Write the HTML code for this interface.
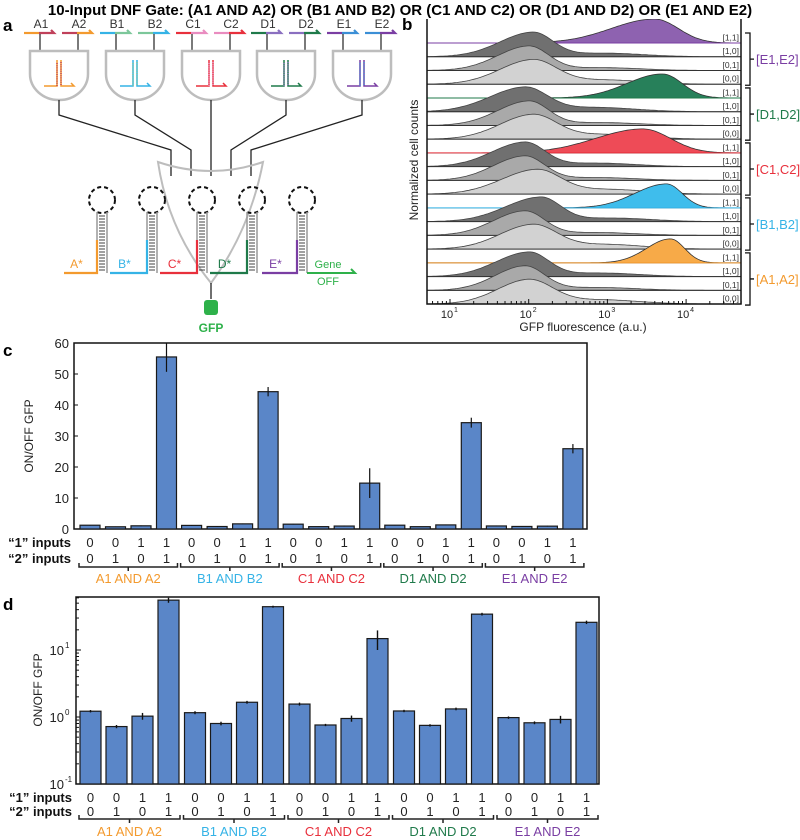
<!DOCTYPE html>
<html><head><meta charset="utf-8"><style>
body{margin:0;background:#fff;}
svg{display:block;font-family:"Liberation Sans",Arial,sans-serif;}
</style></head><body>
<svg id="fig" width="800" height="840" viewBox="0 0 800 840">
<defs><clipPath id="clipC"><rect x="74" y="343" width="513" height="186"/></clipPath>
<clipPath id="clipB"><rect x="427" y="19" width="314" height="285"/></clipPath></defs>
<text x="400" y="15" text-anchor="middle" font-size="15" font-weight="bold">10-Input DNF Gate: (A1 AND A2) OR (B1 AND B2) OR (C1 AND C2) OR (D1 AND D2) OR (E1 AND E2)</text>
<text x="3" y="31" font-size="17" font-weight="bold">a</text>
<text x="402" y="30" font-size="17" font-weight="bold">b</text>
<text x="3" y="356" font-size="17" font-weight="bold">c</text>
<text x="3" y="610" font-size="17" font-weight="bold">d</text>
<g id="pa"></g>
<g id="pb"></g>
<g id="pc"></g>
<g id="pd"></g>
</svg>
<script>
const NS='http://www.w3.org/2000/svg';
function mk(parent,tag,attrs,text){const e=document.createElementNS(NS,tag);for(const k in attrs)e.setAttribute(k,attrs[k]);if(text!==undefined)e.textContent=text;parent.appendChild(e);return e;}

// ---------- data ----------
const groupNames=['A1 AND A2','B1 AND B2','C1 AND C2','D1 AND D2','E1 AND E2'];
const groupColors=['#f39a2e','#35b3e6','#e8303c','#1f7a4a','#7a3ea3'];
const input1=[0,0,1,1];
const input2=[0,1,0,1];
const ratioMeans=[1.22,0.72,1.03,55.5, 1.16,0.80,1.66,44.3, 1.56,0.76,0.95,14.8, 1.23,0.75,1.32,34.3, 0.98,0.82,0.92,25.9];
const ratioErr=[0.05,0.04,0.12,4.8, 0.06,0.05,0.08,1.5, 0.08,0.03,0.10,4.8, 0.05,0.03,0.06,1.6, 0.04,0.04,0.12,1.5];
const linTicks=[0,10,20,30,40,50,60];
const logTicks=[-1,0,1];

const histGroups=['[E1,E2]','[D1,D2]','[C1,C2]','[B1,B2]','[A1,A2]'];
const histGroupColors=['#7a3ea3','#1f7a4a','#e8303c','#35b3e6','#f39a2e'];
const histOnFill=['#8e62b0','#27805a','#ee4b57','#3fbdec','#f7aa48'];
const histRowLabels=['[1,1]','[1,0]','[0,1]','[0,0]'];
const histPeakLog=[3.6,2.05,2.0,2.05, 3.7,1.95,2.0,2.05, 3.45,1.95,1.95,2.1, 3.75,2.15,1.95,2.05, 3.8,2.0,1.95,2.0];
const histSigL=[0.55,0.42,0.4,0.42, 0.45,0.45,0.4,0.42, 0.6,0.42,0.4,0.45, 0.4,0.45,0.4,0.42, 0.3,0.42,0.38,0.4];
const histSigR=[0.3,0.25,0.25,0.3, 0.25,0.28,0.25,0.3, 0.35,0.25,0.25,0.3, 0.2,0.25,0.25,0.3, 0.18,0.25,0.25,0.3];
const histTail=[0,0.15,0.12,0.18, 0,0.18,0.12,0.2, 0,0.15,0.12,0.2, 0,0.15,0.12,0.2, 0,0.15,0.12,0.18];
const histXTicks=[1,2,3,4];

// ---------- panel c (linear) ----------
(function(){
 const g=document.getElementById('pc');
 const L=74,R=587,T=343,B=529;
 const y=v=>B-(v/60)*(B-T);
 const bx=(gi,i)=>80+gi*101.6+i*25.5;
 mk(g,'rect',{x:L,y:T,width:R-L,height:B-T,fill:'none',stroke:'#111','stroke-width':1.5});
 linTicks.forEach(t=>{mk(g,'line',{x1:L,x2:L+4,y1:y(t),y2:y(t),stroke:'#111'});
  const tl=mk(g,'text',{x:L-5,y:y(t)+5,'text-anchor':'end','font-size':13,fill:'#222'},t);
  });
 const yl=mk(g,'text',{x:0,y:0,transform:'translate(33,436) rotate(-90)','text-anchor':'middle','font-size':12,fill:'#222'},'ON/OFF GFP');
 
 const cg=mk(g,'g',{'clip-path':'url(#clipC)'});
 for(let gi=0;gi<5;gi++)for(let i=0;i<4;i++){const k=gi*4+i,v=ratioMeans[k],e=ratioErr[k],x=bx(gi,i);
  const b=mk(cg,'rect',{x:x,y:y(v),width:20,height:B-y(v),fill:'#5a86c8',stroke:'#1a1a1a','stroke-width':1.2});
  
  const eb=mk(cg,'line',{x1:x+10,x2:x+10,y1:y(v+e),y2:y(v-e),stroke:'#111','stroke-width':1.2});
  }
 drawInputs(g,bx,10,543,559,567,583,L-3);
})();

// ---------- panel d (log) ----------
(function(){
 const g=document.getElementById('pd');
 const L=76,R=599,T=597,B=784;
 const y=v=>717-Math.log10(v)*67;
 const bx=(gi,i)=>80+gi*104.5+i*26;
 mk(g,'rect',{x:L,y:T,width:R-L,height:B-T,fill:'none',stroke:'#111','stroke-width':1.5});
 for(let d=-1;d<=1;d++)for(let m=1;m<10;m++){const v=m*Math.pow(10,d),yy=y(v);if(yy<T)continue;
  mk(g,'line',{x1:L,x2:L+(m===1?5:3),y1:yy,y2:yy,stroke:'#111'});}
 logTicks.forEach(t=>{const tx=mk(g,'text',{x:L-12,y:y(Math.pow(10,t))+5,'text-anchor':'end','font-size':13,fill:'#222'},'10');
  
  mk(g,'text',{x:L-11,y:y(Math.pow(10,t))-2,'font-size':8,fill:'#222'},String(t));});
 const yl=mk(g,'text',{x:0,y:0,transform:'translate(42,690) rotate(-90)','text-anchor':'middle','font-size':12,fill:'#222'},'ON/OFF GFP');
 
 for(let gi=0;gi<5;gi++)for(let i=0;i<4;i++){const k=gi*4+i,v=ratioMeans[k],e=ratioErr[k],x=bx(gi,i);
  const b=mk(g,'rect',{x:x,y:Math.max(T,y(v)),width:21,height:B-Math.max(T,y(v)),fill:'#5a86c8',stroke:'#1a1a1a','stroke-width':1.2});
  
  const eb=mk(g,'line',{x1:x+10.5,x2:x+10.5,y1:Math.max(T,y(v+e)),y2:y(v-e),stroke:'#111','stroke-width':1.4});
  }
 drawInputs(g,bx,10.5,798,812,819,836,L-4);
})();

function drawInputs(g,bx,half,y1,y2,yb,yl,lx){
 const a=mk(g,'text',{x:lx,y:y1+4,'text-anchor':'end','font-size':13,'font-weight':'bold',fill:'#111'},'\u201c1\u201d inputs');
 
 const b=mk(g,'text',{x:lx,y:y2+4,'text-anchor':'end','font-size':13,'font-weight':'bold',fill:'#111'},'\u201c2\u201d inputs');
 
 for(let gi=0;gi<5;gi++){
  for(let i=0;i<4;i++){const cx=bx(gi,i)+half;
   mk(g,'text',{x:cx,y:y1+4,'text-anchor':'middle','font-size':13,fill:'#222'},input1[i]);
   mk(g,'text',{x:cx,y:y2+4,'text-anchor':'middle','font-size':13,fill:'#222'},input2[i]);}
  const x0=bx(gi,0)-1,x1=bx(gi,3)+2*half+1,mid=(x0+x1)/2;
  mk(g,'path',{d:`M${x0},${yb-4}V${yb}H${x1}V${yb-4}M${mid},${yb}V${yb+4}`,fill:'none',stroke:'#222','stroke-width':1.5});
  const t=mk(g,'text',{x:mid,y:yl,'text-anchor':'middle','font-size':13,fill:groupColors[gi]},groupNames[gi]);
  }
}

// ---------- panel b (histograms) ----------
(function(){
 const g=document.getElementById('pb');
 const L=427,R=741,B=304,T=19;
 const x=l=>450+(l-1)*78.7;
 const base=r=>43+r*13.74;
 const H=24;
 const grays=['#707070','#a9a9a9','#d2d2d2'];
 const cg=mk(g,'g',{'clip-path':'url(#clipB)'});
 for(let r=0;r<20;r++){
  const gi=Math.floor(r/4),ri=r%4;
  const mu=histPeakLog[r],sl=histSigL[r],sr=histSigR[r],tail=histTail[r];
  let d=`M${L},${base(r)}`;
  for(let l=0.7;l<=4.71;l+=0.03){const s=l<mu?sl:sr;
   let v=Math.exp(-(l-mu)*(l-mu)/(2*s*s))+tail*Math.exp(-(l-mu-0.9)*(l-mu-0.9)/(2*0.25));
   d+=`L${x(l).toFixed(1)},${(base(r)-H*Math.min(v,1.05)).toFixed(1)}`;}
  d+=`L${R},${base(r)}Z`;
  const p=mk(cg,'path',{d:d,fill:ri===0?histOnFill[gi]:grays[ri-1],stroke:ri===0?'#333':'#444','stroke-width':0.8});
  
  mk(cg,'line',{x1:L,x2:R,y1:base(r),y2:base(r),stroke:ri===0?histGroupColors[gi]:'#333','stroke-width':1});
  mk(g,'rect',{x:718,y:base(r)-10,width:22,height:9,fill:'#fff'});
  mk(g,'text',{x:739,y:base(r)-2.5,'text-anchor':'end','font-size':8.5,fill:'#333'},histRowLabels[ri]);
 }
 for(let gi=0;gi<5;gi++){const y0=base(gi*4)-10,y1=base(gi*4+3)+1,m=(y0+y1)/2;
  mk(g,'path',{d:`M745,${y0}H750V${y1}H745M750,${m}H754`,fill:'none',stroke:'#111','stroke-width':1.3});
  const t=mk(g,'text',{x:756,y:m+5,'font-size':13,fill:histGroupColors[gi]},histGroups[gi]);
  }
 mk(g,'path',{d:`M${L},${T}V${B}H${R}V${T}`,fill:'none',stroke:'#111','stroke-width':1.5});
 for(let dd=0;dd<=4;dd++)for(let m=1;m<10;m++){const l=dd+Math.log10(m);if(l<0.7||l>4.7)continue;
  mk(g,'line',{x1:x(l),x2:x(l),y1:B,y2:B-(m===1?5:3),stroke:'#111'});}
 histXTicks.forEach(t=>{const e=mk(g,'text',{x:x(t)-3,y:B+14,'text-anchor':'middle','font-size':11,fill:'#222'},'10');
  
  mk(g,'text',{x:x(t)+4,y:B+8,'font-size':7,fill:'#222'},String(t));});
 const xl=mk(g,'text',{x:583,y:331,'text-anchor':'middle','font-size':12,fill:'#222'},'GFP fluorescence (a.u.)');
 
 const yl=mk(g,'text',{x:0,y:0,transform:'translate(418,160) rotate(-90)','text-anchor':'middle','font-size':12,fill:'#222'},'Normalized cell counts');
 
})();

// ---------- panel a (diagram) ----------
(function(){
 const g=document.getElementById('pa');
 const gateX=[59,135,211,286,362];
 const inCols=[['#f39a2e','#c0405a'],['#35b3e6','#7cc79a'],['#e8303c','#e98cc0'],['#1f7a4a','#8a6fc0'],['#7a3ea3','#3b8fd6']];
 const stemCols=['#c0405a','#7cc79a','#e98cc0','#8a6fc0','#3b8fd6'];
 const labs=[['A1','A2'],['B1','B2'],['C1','C2'],['D1','D2'],['E1','E2']];
 gateX.forEach((cx,i)=>{
  [[-35,-5],[3,33]].forEach((o,j)=>{const x0=cx+o[0],x1=cx+o[1],xm=(x0+x1)/2;
   const c1=inCols[i][j],c2=inCols[i][1-j];
   mk(g,'line',{x1:x0,x2:xm,y1:33,y2:33,stroke:j===0?inCols[i][0]:inCols[i][1],'stroke-width':2.2});
   mk(g,'path',{d:`M${xm},33H${x1}l-3,-3`,fill:'none',stroke:j===0?inCols[i][1]:inCols[i][0],'stroke-width':2.2});
   mk(g,'text',{x:xm+2,y:28,'text-anchor':'middle','font-size':12,fill:'#333'},labs[i][j]);
   mk(g,'line',{x1:cx+(j?19:-19),x2:cx+(j?19:-19),y1:34,y2:51,stroke:'#222','stroke-width':1.2});});
  mk(g,'path',{d:`M${cx-29},51H${cx+29}V74A29,26 0 0 1 ${cx-29},74Z`,fill:'#fff',stroke:'#bdbdbd','stroke-width':2.5});
  mk(g,'path',{d:`M${cx-15},86H${cx-2}V60M${cx+2},60V86H${cx+15}l-3,-3`,fill:'none',stroke:inCols[i][0],'stroke-width':1.5});
  mk(g,'path',{d:`M${cx-2},86V62M${cx+2},62V86`,fill:'none',stroke:stemCols[i],'stroke-width':1.5,'stroke-dasharray':'1 1.2'});
  const ox=171+i*20;
  mk(g,'path',{d:`M${cx},100V115L${ox},150V176`,fill:'none',stroke:'#222','stroke-width':1.3});
 });
 mk(g,'path',{d:'M158,162Q211,180 263,162Q250,230 211,283Q168,230 158,162Z',fill:'none',stroke:'#bdbdbd','stroke-width':2});
 const hx=[97,147,197,247,297];
 const segs=[['#f39a2e',64,'A*'],['#35b3e6',110,'B*'],['#e8303c',160,'C*'],['#1f7a4a',210,'D*'],['#7a3ea3',262,'E*']];
 hx.forEach((x,i)=>{
  mk(g,'circle',{cx:x+5,cy:200,r:13,fill:'none',stroke:'#111','stroke-width':2,'stroke-dasharray':'4 3'});
  mk(g,'path',{d:`M${x},212V273M${x+10},212V273`,fill:'none',stroke:'#999','stroke-width':1.5});
  for(let yy=216;yy<272;yy+=3)mk(g,'line',{x1:x+2,x2:x+8,y1:yy,y2:yy,stroke:'#111','stroke-width':0.8});
  const s=segs[i];
  mk(g,'path',{d:`M${s[1]},273H${x}V240`,fill:'none',stroke:s[0],'stroke-width':2.2});
  mk(g,'text',{x:(s[1]+x)/2-4,y:268,'text-anchor':'middle','font-size':12,fill:s[0]},s[2]);
 });
 mk(g,'path',{d:'M307,273H355l-4,-4',fill:'none',stroke:'#2eb14a','stroke-width':2});
 mk(g,'text',{x:328,y:268,'text-anchor':'middle','font-size':11,fill:'#2eb14a'},'Gene');
 mk(g,'text',{x:328,y:285,'text-anchor':'middle','font-size':11,fill:'#2eb14a'},'OFF');
 mk(g,'line',{x1:211,x2:211,y1:283,y2:299,stroke:'#222','stroke-width':1.3});
 mk(g,'rect',{x:204,y:300,width:14,height:15,rx:3,fill:'#2eb14a'});
 mk(g,'text',{x:211,y:332,'text-anchor':'middle','font-size':12,'font-weight':'bold',fill:'#2eb14a'},'GFP');
})();
</script>
</body></html>
